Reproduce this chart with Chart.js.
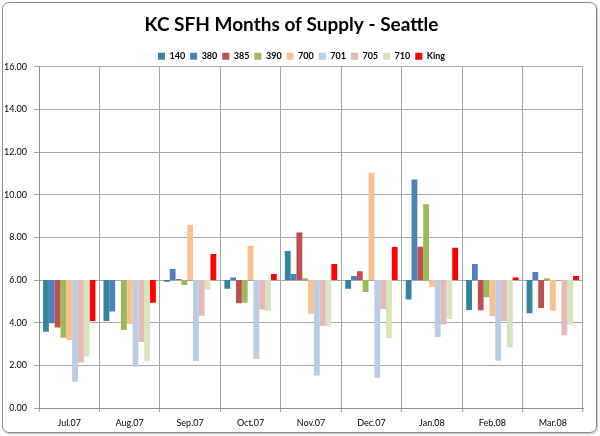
<!DOCTYPE html>
<html>
<head>
<meta charset="utf-8">
<script src="https://cdn.jsdelivr.net/npm/chart.js@4/dist/chart.umd.min.js"></script>
<style>
  body { margin: 0; background: #fff; }
  #frame { position: absolute; left: 2px; top: 2px; width: 593px; height: 429px;
           border: 1px solid #8c8c8c; border-radius: 7px; box-shadow: 1px 1px 2px #bbb; }
  #wrap { position: absolute; left: 0; top: 0; width: 600px; height: 436px; }
</style>
</head>
<body>
<div id="frame"></div>
<div id="wrap"><canvas id="myChart" width="600" height="436"></canvas></div>
<script>
// categories
const months = ["Jul.07", "Aug.07", "Sep.07", "Oct.07", "Nov.07", "Dec.07", "Jan.08", "Feb.08", "Mar.08"];

// months of supply per area (bars hang from the 6.00 crossing line)
const s140 = [3.58, 4.08, 5.92, 5.59, 7.36, 5.59, 5.09, 4.59, 4.44];
const s380 = [3.97, 4.52, 6.52, 6.12, 6.28, 6.19, 10.72, 6.75, 6.38];
const s385 = [3.77, 6.00, 6.05, 4.91, 8.23, 6.41, 7.56, 4.58, 4.69];
const s390 = [3.30, 3.66, 5.77, 4.94, 6.08, 5.44, 9.56, 5.19, 6.08];
const s700 = [3.19, 3.94, 8.59, 7.61, 4.42, 11.03, 5.69, 4.30, 4.56];
const s701 = [1.23, 1.94, 2.20, 2.30, 1.52, 1.42, 3.33, 2.22, 6.00];
const s705 = [2.13, 3.09, 4.33, 4.62, 3.86, 4.64, 3.91, 4.08, 3.41];
const s710 = [2.41, 2.22, 5.56, 4.56, 3.83, 3.28, 4.17, 2.84, 3.91];
const king = [4.08, 4.94, 7.22, 6.28, 6.75, 7.55, 7.52, 6.12, 6.19];

const seriesNames = ["140", "380", "385", "390", "700", "701", "705", "710", "King"];
const seriesData = [s140, s380, s385, s390, s700, s701, s705, s710, king];
const seriesColors = ["#31859C", "#4F81BD", "#C0504D", "#9BBB59", "#FAC090", "#B9CDE5", "#E6B9B8", "#D7E4BD", "#FF0000"];

const crossAt = 6;
const yTicks = [0, 2, 4, 6, 8, 10, 12, 14, 16];

const titleFont = "Lato, 'Open Sans', sans-serif";
const sans = "Lato, 'Liberation Sans', sans-serif";

// nudge the legend a bit lower / right without moving the plot area
const legendNudge = {
    id: "legendNudge",
    afterLayout(chart) {
        chart.legend.top += 4;
        chart.legend.bottom += 4;
        chart.legend.left += 10;
        chart.legend.right += 10;
    }
};

const ctx = document.getElementById("myChart");
new Chart(ctx, {
    type: "bar",
    data: {
        labels: months,
        datasets: seriesNames.map((name, i) => ({
            label: name,
            data: seriesData[i].map(v => [crossAt, v]),
            backgroundColor: seriesColors[i],
            borderWidth: 0,
            categoryPercentage: 0.866,
            barPercentage: 1.0
        }))
    },
    options: {
        responsive: false,
        animation: false,
        layout: { padding: { left: 0, right: 17, top: 0, bottom: 6 } },
        plugins: {
            title: {
                display: true,
                text: "KC SFH Months of Supply - Seattle",
                color: "#000",
                font: { family: titleFont, size: 19, weight: "bold" },
                padding: { top: 13, bottom: 7 }
            },
            legend: {
                labels: {
                    boxWidth: 7,
                    boxHeight: 7,
                    padding: 5,
                    color: "#000",
                    font: { family: sans, size: 9, weight: "bold" }
                }
            },
            tooltip: { enabled: false }
        },
        scales: {
            x: {
                grid: { color: "#a6a6a6", lineWidth: 1, tickLength: 4 },
                border: { color: "#8c8c8c" },
                ticks: { color: "#000", padding: 6, font: { family: sans, size: 9 } },
                afterFit: s => { s.height = 22; }
            },
            y: {
                min: 0,
                max: 16,
                afterBuildTicks: s => { s.ticks = yTicks.map(v => ({ value: v })); },
                grid: { color: "#a6a6a6", lineWidth: 1, tickLength: 5 },
                border: { color: "#8c8c8c" },
                ticks: {
                    color: "#000",
                    padding: 7,
                    font: { family: sans, size: 9 },
                    callback: v => v.toFixed(2)
                },
                afterFit: s => { s.width = 39; }
            }
        }
    },
    plugins: [legendNudge]
});
</script>
</body>
</html>
